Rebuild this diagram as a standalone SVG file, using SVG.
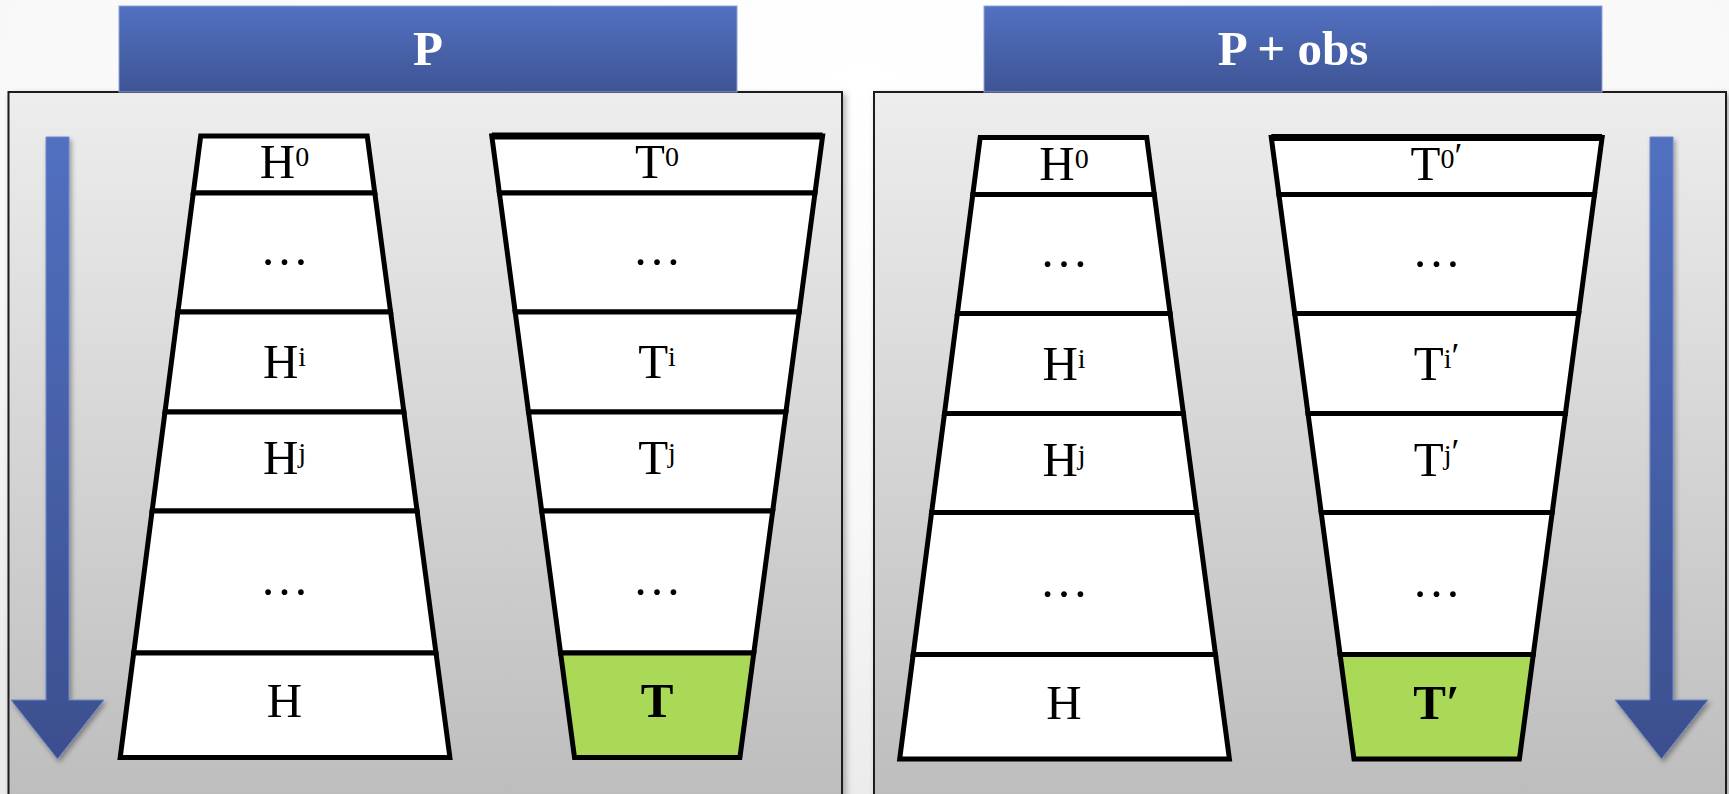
<svg xmlns="http://www.w3.org/2000/svg" width="1729" height="794" viewBox="0 0 1729 794">
  <defs>
    <radialGradient id="bgGrad" cx="0.5" cy="0.1" r="0.9">
      <stop offset="0" stop-color="#ffffff"/>
      <stop offset="0.6" stop-color="#f8f8f8"/>
      <stop offset="1" stop-color="#ebebeb"/>
    </radialGradient>
    <linearGradient id="panelGrad" x1="0" y1="92" x2="0" y2="800" gradientUnits="userSpaceOnUse">
      <stop offset="0" stop-color="#ededed"/>
      <stop offset="1" stop-color="#bdbdbd"/>
    </linearGradient>
    <linearGradient id="headGrad" x1="0" y1="0" x2="0" y2="1">
      <stop offset="0" stop-color="#5271c1"/>
      <stop offset="1" stop-color="#3e5494"/>
    </linearGradient>
    <linearGradient id="arrowGrad" x1="0" y1="137" x2="0" y2="760" gradientUnits="userSpaceOnUse">
      <stop offset="0" stop-color="#5170c0"/>
      <stop offset="1" stop-color="#3b4f8e"/>
    </linearGradient>
    <filter id="shadow" x="-10%" y="-10%" width="130%" height="130%">
      <feDropShadow dx="3" dy="3" stdDeviation="3" flood-color="#000" flood-opacity="0.3"/>
    </filter>
    <filter id="arrowShadow" x="-40%" y="-10%" width="180%" height="130%">
      <feDropShadow dx="2" dy="3" stdDeviation="2.5" flood-color="#000" flood-opacity="0.35"/>
    </filter>
  </defs>
  <style>
    .panel { fill: url(#panelGrad); stroke: #1c1c1c; stroke-width: 2; filter: url(#shadow); }
    .head { fill: url(#headGrad); stroke: #8ea2d6; stroke-width: 1; }
    .headtxt { font-family: "Liberation Serif", "DejaVu Serif", serif; font-size: 49px; font-weight: bold; fill: #ffffff; text-anchor: middle; }
    .cell { fill: #ffffff; stroke: #000000; stroke-width: 5; stroke-linejoin: miter; }
    .topedge { fill: none; stroke: #000000; stroke-width: 7; }
    .goal { fill: #a9d957; }
    .lbl { font-family: "Liberation Serif", "DejaVu Serif", serif; font-size: 49px; fill: #000000; text-anchor: middle; }
    .bold { font-weight: bold; }
    .sup { font-size: 28px; }
    .prime { font-size: 36px; }
    .arrow { fill: url(#arrowGrad); stroke: #6c86cc; stroke-width: 1; filter: url(#arrowShadow); }
  </style>

  <!-- backdrop -->
  <rect x="0" y="0" width="1729" height="794" fill="url(#bgGrad)"/>

  <!-- panels with their title bars -->
  <g id="panel-P">
    <rect class="panel" x="8.5" y="92" width="833.5" height="730"/>
    <rect class="head" x="119" y="6" width="618" height="86"/>
    <text class="headtxt" x="428" y="65">P</text>
  </g>
  <g id="panel-P-obs">
    <rect class="panel" x="874" y="92" width="852" height="730"/>
    <rect class="head" x="984" y="6" width="618" height="86"/>
    <text class="headtxt" x="1293" y="65">P + obs</text>
  </g>

  <!-- direction arrows -->
  <g id="flow-arrows">
    <path class="arrow" d="M46,137 H69 V700 H104 L57.5,759 L11,700 H46 Z"/>
    <path class="arrow" d="M1650,137 H1673 V700 H1708 L1661.5,759 L1615,700 H1650 Z"/>
  </g>

  <!-- H column, panel P -->
  <g id="H-column-P">
    <g id="P-H0"><polygon class="cell" points="200.7,136 367.2,136 374.8,193 193.3,193"/>
      <text class="lbl" x="284.5" y="178">H<tspan class="sup" dy="-12">0</tspan></text></g>
    <g id="P-H-dots1"><polygon class="cell" points="193.3,193 374.8,193 390.6,312 177.9,312"/>
      <text class="lbl" x="284.5" y="265">…</text></g>
    <g id="P-Hi"><polygon class="cell" points="177.9,312 390.6,312 403.9,412 165,412"/>
      <text class="lbl" x="284.5" y="378">H<tspan class="sup" dy="-12">i</tspan></text></g>
    <g id="P-Hj"><polygon class="cell" points="165,412 403.9,412 417.1,511 152.1,511"/>
      <text class="lbl" x="284.5" y="474">H<tspan class="sup" dy="-12">j</tspan></text></g>
    <g id="P-H-dots2"><polygon class="cell" points="152.1,511 417.1,511 436,653 133.7,653"/>
      <text class="lbl" x="284.5" y="595">…</text></g>
    <g id="P-H"><polygon class="cell" points="133.7,653 436,653 449.9,757.5 120.2,757.5"/>
      <text class="lbl" x="284.5" y="717">H</text></g>
  </g>

  <!-- T column, panel P -->
  <g id="T-column-P">
    <g id="P-T0"><polygon class="cell" points="491.8,136 822.6,136 815,193 499.4,193"/>
      <line class="topedge" x1="491.8" y1="136" x2="822.6" y2="136"/>
      <text class="lbl" x="657" y="178">T<tspan class="sup" dy="-12">0</tspan></text></g>
    <g id="P-T-dots1"><polygon class="cell" points="499.4,193 815,193 799.2,312 515.2,312"/>
      <text class="lbl" x="657" y="265">…</text></g>
    <g id="P-Ti"><polygon class="cell" points="515.2,312 799.2,312 785.9,412 528.5,412"/>
      <text class="lbl" x="657" y="378">T<tspan class="sup" dy="-12">i</tspan></text></g>
    <g id="P-Tj"><polygon class="cell" points="528.5,412 785.9,412 772.7,511 541.7,511"/>
      <text class="lbl" x="657" y="474">T<tspan class="sup" dy="-12">j</tspan></text></g>
    <g id="P-T-dots2"><polygon class="cell" points="541.7,511 772.7,511 753.8,653 560.6,653"/>
      <text class="lbl" x="657" y="595">…</text></g>
    <g id="P-T"><polygon class="cell goal" points="560.6,653 753.8,653 739.9,757.5 574.5,757.5"/>
      <text class="lbl bold" x="657" y="717">T</text></g>
  </g>

  <!-- H column, panel P + obs -->
  <g id="H-column-Pobs" transform="translate(779.5,1.5)">
    <g id="O-H0"><polygon class="cell" points="200.7,136 367.2,136 374.8,193 193.3,193"/>
      <text class="lbl" x="284.5" y="178">H<tspan class="sup" dy="-12">0</tspan></text></g>
    <g id="O-H-dots1"><polygon class="cell" points="193.3,193 374.8,193 390.6,312 177.9,312"/>
      <text class="lbl" x="284.5" y="265">…</text></g>
    <g id="O-Hi"><polygon class="cell" points="177.9,312 390.6,312 403.9,412 165,412"/>
      <text class="lbl" x="284.5" y="378">H<tspan class="sup" dy="-12">i</tspan></text></g>
    <g id="O-Hj"><polygon class="cell" points="165,412 403.9,412 417.1,511 152.1,511"/>
      <text class="lbl" x="284.5" y="474">H<tspan class="sup" dy="-12">j</tspan></text></g>
    <g id="O-H-dots2"><polygon class="cell" points="152.1,511 417.1,511 436,653 133.7,653"/>
      <text class="lbl" x="284.5" y="595">…</text></g>
    <g id="O-H"><polygon class="cell" points="133.7,653 436,653 449.9,757.5 120.2,757.5"/>
      <text class="lbl" x="284.5" y="717">H</text></g>
  </g>

  <!-- T' column, panel P + obs -->
  <g id="T-column-Pobs" transform="translate(779.5,1.5)">
    <g id="O-T0"><polygon class="cell" points="491.8,136 822.6,136 815,193 499.4,193"/>
      <line class="topedge" x1="491.8" y1="136" x2="822.6" y2="136"/>
      <text class="lbl" x="657" y="178">T<tspan class="sup" dy="-12">0<tspan class="prime">′</tspan></tspan></text></g>
    <g id="O-T-dots1"><polygon class="cell" points="499.4,193 815,193 799.2,312 515.2,312"/>
      <text class="lbl" x="657" y="265">…</text></g>
    <g id="O-Ti"><polygon class="cell" points="515.2,312 799.2,312 785.9,412 528.5,412"/>
      <text class="lbl" x="657" y="378">T<tspan class="sup" dy="-12">i<tspan class="prime">′</tspan></tspan></text></g>
    <g id="O-Tj"><polygon class="cell" points="528.5,412 785.9,412 772.7,511 541.7,511"/>
      <text class="lbl" x="657" y="474">T<tspan class="sup" dy="-12">j<tspan class="prime">′</tspan></tspan></text></g>
    <g id="O-T-dots2"><polygon class="cell" points="541.7,511 772.7,511 753.8,653 560.6,653"/>
      <text class="lbl" x="657" y="595">…</text></g>
    <g id="O-T"><polygon class="cell goal" points="560.6,653 753.8,653 739.9,757.5 574.5,757.5"/>
      <text class="lbl bold" x="657" y="717">T′</text></g>
  </g>
</svg>
